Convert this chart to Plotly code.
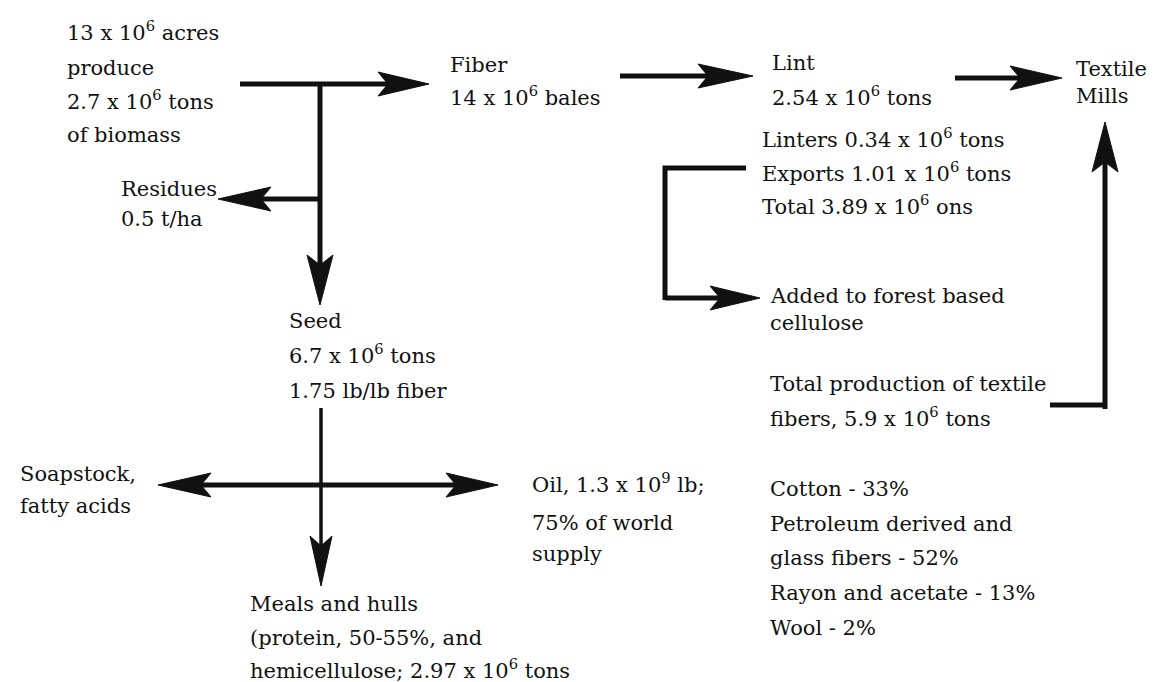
import plotly.graph_objects as go

# ---- data ----
acres_mil = 13
biomass_mil_t = 2.7
fiber_bales_mil = 14
lint_mil_t = 2.54
linters_mil_t = 0.34
exports_mil_t = 1.01
total_lint_mil_t = 3.89
residue_t_ha = 0.5
seed_mil_t = 6.7
seed_lb_per_lb_fiber = 1.75
oil_bil_lb = 1.3
oil_world_pct = 75
protein_range = "50-55"
meals_mil_t = 2.97
textile_total_mil_t = 5.9
fiber_types = ["Cotton", "Petroleum derived and<br>glass fibers", "Rayon and acetate", "Wool"]
fiber_shares = [33, 52, 13, 2]

E6 = " x 10<sup>6</sup>"

# ---- text blocks: list of lines ----
blocks = {
    "crop": [f"{acres_mil}{E6} acres", "produce", f"{biomass_mil_t}{E6} tons", "of biomass"],
    "fiber": ["Fiber", f"{fiber_bales_mil}{E6} bales"],
    "lint": ["Lint", f"{lint_mil_t}{E6} tons"],
    "mills": ["Textile", "Mills"],
    "linters": [f"Linters {linters_mil_t}{E6} tons", f"Exports {exports_mil_t}{E6} tons",
                f"Total {total_lint_mil_t}{E6} ons"],
    "residues": ["Residues", f"{residue_t_ha} t/ha"],
    "forest": ["Added to forest based", "cellulose"],
    "seed": ["Seed", f"{seed_mil_t}{E6} tons", f"{seed_lb_per_lb_fiber} lb/lb fiber"],
    "soap": ["Soapstock,", "fatty acids"],
    "oil": [f"Oil, {oil_bil_lb} x 10<sup>9</sup> lb;", f"{oil_world_pct}% of world", "supply"],
    "meals": ["Meals and hulls", f"(protein, {protein_range}%, and", f"hemicellulose; {meals_mil_t}{E6} tons"],
    "textile": ["Total production of textile", f"fibers, {textile_total_mil_t}{E6} tons"],
}
shares_lines = []
for name, pct in zip(fiber_types, fiber_shares):
    parts = name.split("<br>")
    parts[-1] = parts[-1] + f" - {pct}%"
    shares_lines.extend(parts)
blocks["shares"] = shares_lines

# ---- layout positions (pixel space, visual centre of each line) ----
block_pos = {
    "crop": (58, [26, 61, 95, 128]),
    "fiber": (441, [58, 91]),
    "lint": (763, [56, 91]),
    "mills": (1067, [62, 89]),
    "linters": (753, [133, 167, 200]),
    "residues": (112, [182, 212]),
    "forest": (761, [289, 316]),
    "seed": (280, [314, 349, 384]),
    "soap": (11, [467, 499]),
    "oil": (523, [478, 516, 547]),
    "meals": (241, [597, 631, 664]),
    "textile": (761, [377, 412]),
    "shares": (761, [482, 517, 551, 586, 621]),
}

W, H = 1154, 682
INK = "#111111"
FS = 21
FONT = dict(family="DejaVu Serif", size=FS, color=INK)
BOTTOM_OFFSET = 12  # from visual line centre to text-box bottom

fig = go.Figure()
annotations = []
for key, lines in blocks.items():
    x, ys = block_pos[key]
    for txt, y in zip(lines, ys):
        annotations.append(dict(x=x, y=y + BOTTOM_OFFSET, xref="x", yref="y", text=txt,
                                showarrow=False, xanchor="left", yanchor="bottom",
                                font=FONT, borderpad=0))

shapes = []


def seg(pts, width=5):
    path = "M " + " L ".join(f"{px},{py}" for px, py in pts)
    shapes.append(dict(type="path", path=path, xref="x", yref="y",
                       line=dict(color=INK, width=width), fillcolor="rgba(0,0,0,0)"))


def arrow(x0, y0, x1, y1, L=50, Wh=12, notch=10, width=5):
    dx, dy = x1 - x0, y1 - y0
    n = (dx * dx + dy * dy) ** 0.5
    ux, uy = dx / n, dy / n
    px, py = -uy, ux
    bx, by = x1 - L * ux, y1 - L * uy
    nx, ny = x1 - (L - notch) * ux, y1 - (L - notch) * uy
    seg([(x0, y0), (nx, ny)], width)
    path = (f"M {x1},{y1} L {bx + Wh * px},{by + Wh * py} L {nx},{ny} "
            f"L {bx - Wh * px},{by - Wh * py} Z")
    shapes.append(dict(type="path", path=path, xref="x", yref="y",
                       line=dict(color=INK, width=1), fillcolor=INK))


# crop -> fiber
arrow(232, 76, 421, 76, L=51)
# down to seed
arrow(312, 76, 312, 297, L=50, Wh=13)
# residues
arrow(312, 191, 210, 191, L=53)
# fiber -> lint
arrow(612, 68, 745, 68, L=55)
# lint -> textile mills
arrow(947, 70, 1054, 70, L=52)
# linters bracket -> forest cellulose
seg([(738, 160), (657, 160), (657, 292)])
arrow(657, 290, 752, 290, L=50)
# total textile fibers -> mills
seg([(1042, 397), (1097, 397)])
arrow(1097, 401, 1097, 114, L=50, Wh=13)
# seed -> meals
arrow(313, 400, 313, 578, L=50, Wh=11, width=3.5)
# seed -> soapstock / oil
arrow(313, 477, 150, 477, L=53)
arrow(313, 477, 490, 477, L=52)

fig.update_layout(
    width=W, height=H,
    margin=dict(l=0, r=0, t=0, b=0),
    paper_bgcolor="white", plot_bgcolor="white",
    xaxis=dict(range=[0, W], visible=False, fixedrange=True),
    yaxis=dict(range=[H, 0], visible=False, fixedrange=True),
    showlegend=False,
    annotations=annotations,
    shapes=shapes,
)

fig.write_html("out.html")
